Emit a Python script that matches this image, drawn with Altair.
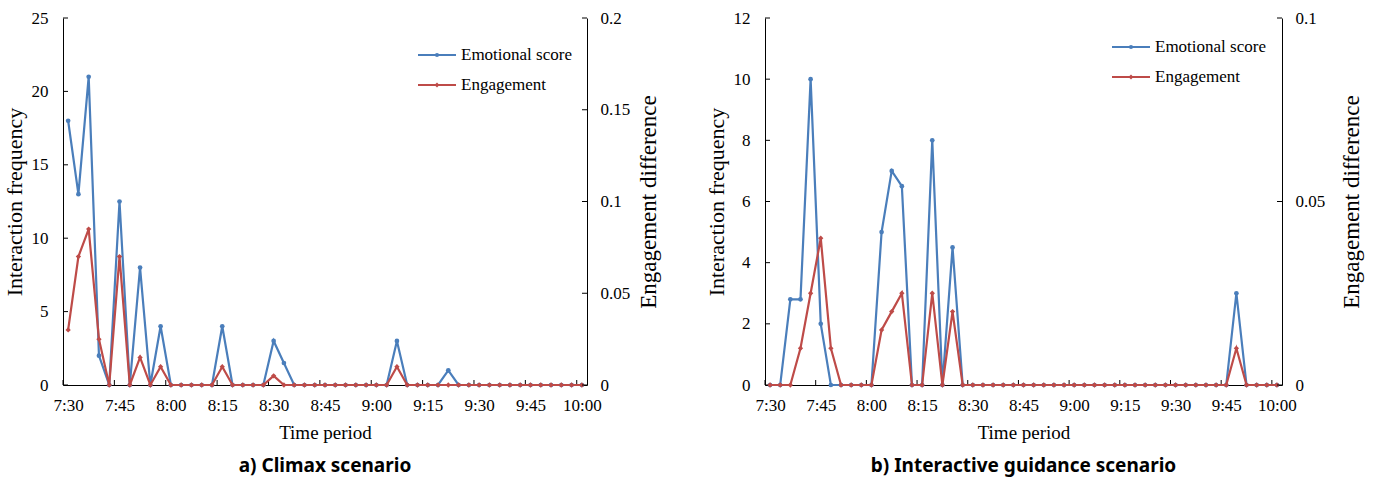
import json
import altair as alt
import pandas as pd

# ---------------- data ----------------
times = ["7:30", "7:33", "7:36", "7:39", "7:42", "7:45", "7:48", "7:51", "7:54", "7:57",
         "8:00", "8:03", "8:06", "8:09", "8:12", "8:15", "8:18", "8:21", "8:24", "8:27",
         "8:30", "8:33", "8:36", "8:39", "8:42", "8:45", "8:48", "8:51", "8:54", "8:57",
         "9:00", "9:03", "9:06", "9:09", "9:12", "9:15", "9:18", "9:21", "9:24", "9:27",
         "9:30", "9:33", "9:36", "9:39", "9:42", "9:45", "9:48", "9:51", "9:54", "9:57",
         "10:00"]
tick_labels = ["7:30", "7:45", "8:00", "8:15", "8:30", "8:45", "9:00", "9:15", "9:30", "9:45", "10:00"]

a_emotional = [18, 13, 21, 2, 0, 12.5, 0, 8, 0, 4,
               0, 0, 0, 0, 0, 4, 0, 0, 0, 0,
               3, 1.5, 0, 0, 0, 0, 0, 0, 0, 0,
               0, 0, 3, 0, 0, 0, 0, 1, 0, 0,
               0, 0, 0, 0, 0, 0, 0, 0, 0, 0,
               0]
a_engagement = [0.03, 0.07, 0.085, 0.025, 0, 0.07, 0, 0.015, 0, 0.01,
                0, 0, 0, 0, 0, 0.01, 0, 0, 0, 0,
                0.005, 0, 0, 0, 0, 0, 0, 0, 0, 0,
                0, 0, 0.01, 0, 0, 0, 0, 0, 0, 0,
                0, 0, 0, 0, 0, 0, 0, 0, 0, 0,
                0]
b_emotional = [0, 0, 2.8, 2.8, 10, 2, 0, 0, 0, 0,
               0, 5, 7, 6.5, 0, 0, 8, 0, 4.5, 0,
               0, 0, 0, 0, 0, 0, 0, 0, 0, 0,
               0, 0, 0, 0, 0, 0, 0, 0, 0, 0,
               0, 0, 0, 0, 0, 0, 3, 0, 0, 0,
               0]
b_engagement = [0, 0, 0, 0.01, 0.025, 0.04, 0.01, 0, 0, 0,
                0, 0.015, 0.02, 0.025, 0, 0, 0.025, 0, 0.02, 0,
                0, 0, 0, 0, 0, 0, 0, 0, 0, 0,
                0, 0, 0, 0, 0, 0, 0, 0, 0, 0,
                0, 0, 0, 0, 0, 0, 0.01, 0, 0, 0,
                0]

series_names = ["Emotional score", "Engagement"]
BLUE = "#4a7ebb"
RED = "#be4b48"
FONT = "Liberation Serif"


def to_min(s):
    h, m = s.split(":")
    return int(h) * 60 + int(m) - (7 * 60 + 30)


minutes = [to_min(t) for t in times]
tick_minutes = [to_min(t) for t in tick_labels]
label_expr = json.dumps(tick_labels) + "[round(datum.value / 15)]"


def panel(emo, eng, left_max, left_step, right_max, right_step, W, H, title,
          legend_x, legend_y, rtitle_pad):
    df = pd.DataFrame({"t": minutes, "time": times, "emo": emo, "eng": eng})
    xscale = alt.Scale(domain=[-1.5, 151.5], nice=False, zero=False)
    xaxis = alt.Axis(values=tick_minutes, labelExpr=label_expr, ticks=False, tickSize=0,
                     labelPadding=12, title="Time period", titleFontSize=19,
                     titlePadding=10, grid=False, domainColor="black",
                     labelFont=FONT, titleFont=FONT, labelFontSize=17)
    left_vals = [i * left_step for i in range(int(round(left_max / left_step)) + 1)]
    right_vals = [round(i * right_step, 4) for i in range(int(round(right_max / right_step)) + 1)]
    lscale = alt.Scale(domain=[0, left_max], nice=False)
    rscale = alt.Scale(domain=[0, right_max], nice=False)
    laxis = alt.Axis(values=left_vals, ticks=False, tickSize=0, labelPadding=15, grid=False,
                     title="Interaction frequency", titleFontSize=22, titlePadding=5,
                     domainColor="black", format="~g",
                     labelFont=FONT, titleFont=FONT, labelFontSize=17)
    raxis = alt.Axis(values=right_vals, ticks=False, tickSize=0, labelPadding=13, grid=False,
                     orient="right", title="Engagement difference", titleFontSize=23,
                     titlePadding=rtitle_pad, titleAngle=270, titleBaseline="top",
                     domainColor="black", format="~g",
                     labelFont=FONT, titleFont=FONT, labelFontSize=17)

    X = alt.X("t:Q", scale=xscale, axis=xaxis)
    base = alt.Chart(df)
    blue_line = base.mark_line(color=BLUE, strokeWidth=2.2).encode(
        x=X, y=alt.Y("emo:Q", scale=lscale, axis=laxis))
    blue_pts = base.mark_point(filled=True, color=BLUE, size=22, opacity=1, shape="circle").encode(
        x=X, y=alt.Y("emo:Q", scale=lscale, axis=laxis))

    # inside ticks on left axis
    lt = pd.DataFrame({"emo": left_vals})
    left_ticks = alt.Chart(lt).mark_rule(color="black", strokeWidth=1).encode(
        y=alt.Y("emo:Q", scale=lscale, axis=laxis), x=alt.value(0), x2=alt.value(5))
    # inside ticks on x axis (between categories)
    xt = pd.DataFrame({"t": [m - 1.5 for m in tick_minutes]})
    x_ticks = alt.Chart(xt).mark_rule(color="black", strokeWidth=1).encode(
        x=X, y=alt.value(H - 5), y2=alt.value(H))

    # legend (manual)
    leg = []
    for k, (name, col, shp) in enumerate(zip(series_names, [BLUE, RED], ["circle", "diamond"])):
        ld = pd.DataFrame({"name": [name]})
        yy = legend_y + 30 * k
        leg.append(alt.Chart(ld).mark_rule(color=col, strokeWidth=2).encode(
            x=alt.value(legend_x), x2=alt.value(legend_x + 38), y=alt.value(yy)))
        leg.append(alt.Chart(ld).mark_point(filled=True, color=col, size=18 if shp == "circle" else 24,
                                            shape=shp, opacity=1).encode(
            x=alt.value(legend_x + 19), y=alt.value(yy)))
        leg.append(alt.Chart(ld).mark_text(align="left", baseline="middle", font=FONT,
                                           fontSize=17, color="black").encode(
            text="name:N", x=alt.value(legend_x + 43), y=alt.value(yy)))

    left_group = alt.layer(blue_line, blue_pts, left_ticks, x_ticks, *leg)

    red_line = base.mark_line(color=RED, strokeWidth=2.2).encode(
        x=X, y=alt.Y("eng:Q", scale=rscale, axis=raxis))
    red_pts = base.mark_point(filled=True, color=RED, size=28, opacity=1, shape="diamond").encode(
        x=X, y=alt.Y("eng:Q", scale=rscale, axis=raxis))
    rt = pd.DataFrame({"eng": right_vals})
    right_ticks = alt.Chart(rt).mark_rule(color="black", strokeWidth=1).encode(
        y=alt.Y("eng:Q", scale=rscale, axis=raxis), x=alt.value(W - 5), x2=alt.value(W))
    right_group = alt.layer(red_line, red_pts, right_ticks)

    return alt.layer(left_group, right_group).resolve_scale(y="independent").properties(
        width=W, height=H,
        title=alt.TitleParams(title, orient="bottom", font="Noto Sans", fontWeight="bold",
                              fontSize=19, offset=15, anchor="middle"))


H = 367
pa = panel(a_emotional, a_engagement, 25, 5, 0.2, 0.05, 524, H, "a) Climax scenario", 355, 37, 8)
pb = panel(b_emotional, b_engagement, 12, 2, 0.1, 0.05, 517, H,
           "b) Interactive guidance scenario", 347, 29, 16)

chart = alt.hconcat(pa, pb, spacing=44).properties(
    padding={"left": 3, "top": 9, "right": 5, "bottom": 3}
).configure_view(stroke=None).configure_axis(
    labelFont=FONT, titleFont=FONT, labelFontSize=17, labelColor="black",
    titleColor="black", titleFontWeight="normal", domainWidth=1
).configure_title(color="black")

chart.save("out.html", embed_options={"renderer": "svg", "actions": False})
